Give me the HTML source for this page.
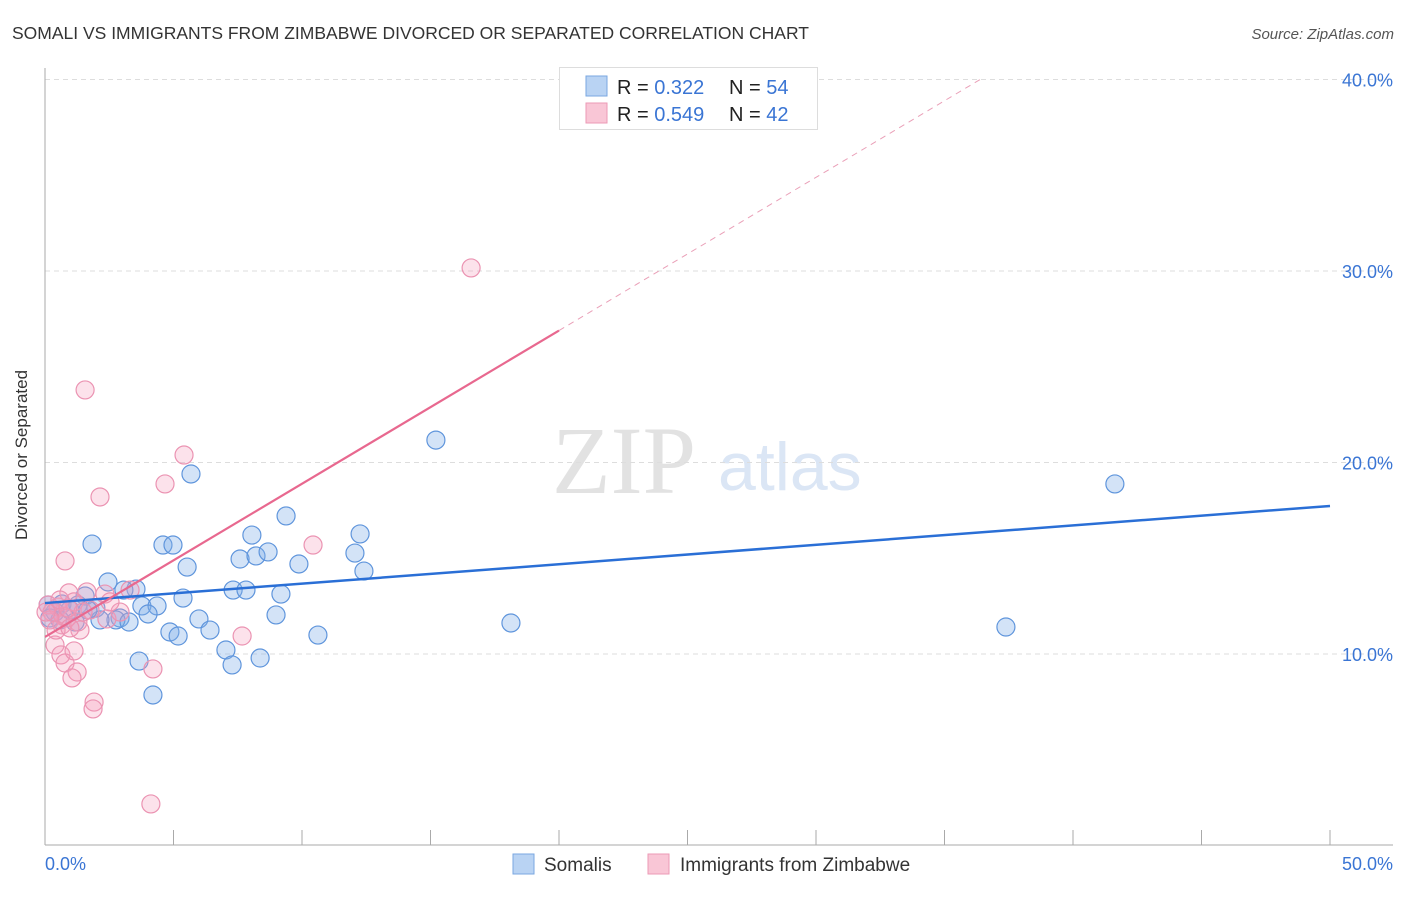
<!DOCTYPE html>
<html><head><meta charset="utf-8"><style>
body{margin:0;background:#fff;font-family:"Liberation Sans",sans-serif;}
svg text{font-family:"Liberation Sans",sans-serif;}
</style></head><body>
<svg id="chart" width="1406" height="892" viewBox="0 0 1406 892">
<text x="12" y="39" font-size="17.5" fill="#333">SOMALI VS IMMIGRANTS FROM ZIMBABWE DIVORCED OR SEPARATED CORRELATION CHART</text>
<text x="1394" y="39" font-size="15" fill="#555" text-anchor="end" font-style="italic">Source: ZipAtlas.com</text>
<g>
<text x="552" y="493" font-size="96" fill="#e2e2e2" font-family="Liberation Serif, serif" style="font-family:'Liberation Serif',serif">ZIP</text>
<text x="718" y="490" font-size="68" fill="#dbe6f5">atlas</text>
</g>
<g id="grid"></g>
<g id="axes"></g>
<g id="pts"></g>
<g id="lines"></g>
<text x="27" y="455" font-size="17" fill="#333" text-anchor="middle" transform="rotate(-90 27 455)">Divorced or Separated</text>
<text x="45" y="870" font-size="18" fill="#3a75d4">0.0%</text>
<text x="1393" y="870" font-size="18" fill="#3a75d4" text-anchor="end">50.0%</text>
<g>
<rect x="559.5" y="67.5" width="258" height="62" fill="#fff" stroke="#ddd"/>
<rect x="586" y="76" width="21" height="20" fill="#b9d3f3" stroke="#7aa7e0"/>
<rect x="586" y="103" width="21" height="20" fill="#f9c6d6" stroke="#ec9ab6"/>
<text x="617" y="94" font-size="20" fill="#222">R = <tspan fill="#3a75d4"> 0.322</tspan></text>
<text x="729" y="94" font-size="20" fill="#222">N = <tspan fill="#3a75d4">54</tspan></text>
<text x="617" y="121" font-size="20" fill="#222">R = <tspan fill="#3a75d4">0.549</tspan></text>
<text x="729" y="121" font-size="20" fill="#222">N = <tspan fill="#3a75d4">42</tspan></text>
</g>
<g>
<rect x="513" y="854" width="21" height="20" fill="#b9d3f3" stroke="#7aa7e0"/>
<text x="544" y="871" font-size="19" fill="#333">Somalis</text>
<rect x="648" y="854" width="21" height="20" fill="#f9c6d6" stroke="#ec9ab6"/>
<text x="680" y="871" font-size="19" fill="#333">Immigrants from Zimbabwe</text>
</g>
</svg>
<script>
const yTicks=[10,20,30,40];
const yTickLabels=["10.0%","20.0%","30.0%","40.0%"];
const xTicks=[5,10,15,20,25,30,35,40,45,50];
const somaliX=[1.83,4.59,4.98,5.53,5.68,2.45,3.54,3.07,7.32,7.82,1.56,3.77,4.36,5.37,1.98,2.92,2.76,2.14,3.27,4.01,5.99,4.86,5.18,6.42,7.04,3.66,7.28,8.37,4.20,7.59,8.21,8.68,8.05,9.38,9.88,9.18,8.99,10.62,12.06,12.26,12.41,15.21,18.13,37.39,41.63,0.66,0.97,0.39,1.17,0.58,0.12,1.28,1.67,0.19];
const somaliY=[15.74,15.69,15.69,14.54,19.40,13.76,13.39,13.34,13.34,13.34,13.03,12.51,12.51,12.92,12.40,11.88,11.78,11.78,11.67,12.09,11.83,11.15,10.94,11.25,10.21,9.63,9.43,9.79,7.86,14.96,15.12,15.33,16.21,17.21,14.70,13.13,12.04,10.99,15.27,16.27,14.33,21.17,11.62,11.41,18.88,12.61,12.30,12.19,11.67,11.78,12.56,12.56,12.30,11.88];
const zimX=[16.58,1.56,5.41,4.67,2.14,0.78,10.43,0.93,1.63,2.33,1.13,3.31,2.41,1.75,1.36,1.28,0.66,0.39,0.62,0.78,1.25,1.13,1.05,1.91,1.87,4.20,7.67,4.12,0.12,0.27,0.51,0.70,0.19,0.86,0.43,0.97,0.04,1.48,0.58,2.92,2.53,0.89];
const zimY=[30.16,23.79,20.39,18.88,18.20,14.86,15.69,13.19,13.24,13.13,12.72,13.34,11.83,12.30,11.25,11.67,11.52,10.47,9.95,9.53,9.06,10.16,8.75,7.49,7.13,9.22,10.94,2.17,12.56,12.19,12.45,11.98,11.78,11.88,11.25,11.36,12.19,12.19,12.82,12.19,12.72,12.40];
const somaliTrend=[12.66,17.73];
const zimTrend=[10.89,0.8];
const NS="http://www.w3.org/2000/svg";
const X0=45,X1=1330,Y0=845.5,YPER=19.15;
function sx(v){return X0+(X1-X0)*v/50;}
function sy(v){return Y0-v*YPER;}
function mk(t,a,p){const e=document.createElementNS(NS,t);for(const k in a)e.setAttribute(k,a[k]);p.appendChild(e);return e;}
const grid=document.getElementById('grid'),axes=document.getElementById('axes'),pts=document.getElementById('pts'),lines=document.getElementById('lines');
yTicks.forEach((t,i)=>{
 const l=mk('line',{x1:45,x2:1393,y1:sy(t),y2:sy(t),stroke:'#ddd','stroke-dasharray':'5,4'},grid);
 
 
 const tx=mk('text',{x:1393,y:sy(t)+7,'font-size':18,fill:'#3a75d4','text-anchor':'end'},axes);
 tx.textContent=yTickLabels[i];
 
 
});
mk('line',{x1:45,x2:45,y1:68,y2:845,stroke:'#aaa'},axes);
mk('line',{x1:45,x2:1393,y1:845,y2:845,stroke:'#aaa'},axes);
xTicks.forEach(t=>{
 const l=mk('line',{x1:sx(t),x2:sx(t),y1:830,y2:845,stroke:'#aaa'},axes);
 
 
});
somaliX.forEach((x,i)=>{
 const c=mk('circle',{cx:sx(x),cy:sy(somaliY[i]),r:9,fill:'rgba(130,175,232,0.35)',stroke:'#5f95dc','stroke-width':1.2},pts);
 
 
});
zimX.forEach((x,i)=>{
 const c=mk('circle',{cx:sx(x),cy:sy(zimY[i]),r:9,fill:'rgba(244,160,188,0.3)',stroke:'#eb93b2','stroke-width':1.2},pts);
 
 
});
const bl=mk('line',{x1:sx(0),y1:sy(somaliTrend[0]),x2:sx(50),y2:sy(somaliTrend[1]),stroke:'#2a6fd6','stroke-width':2.5},lines);


const zEnd=20,zMax=(40-zimTrend[0])/zimTrend[1];
const pl=mk('line',{x1:sx(0),y1:sy(zimTrend[0]),x2:sx(zEnd),y2:sy(zimTrend[0]+zimTrend[1]*zEnd),stroke:'#e8688f','stroke-width':2.2},lines);


const pd=mk('line',{x1:sx(zEnd),y1:sy(zimTrend[0]+zimTrend[1]*zEnd),x2:sx(zMax),y2:sy(40),stroke:'#eaa0b8','stroke-width':1,'stroke-dasharray':'6,5'},lines);


</script>
</body></html>
